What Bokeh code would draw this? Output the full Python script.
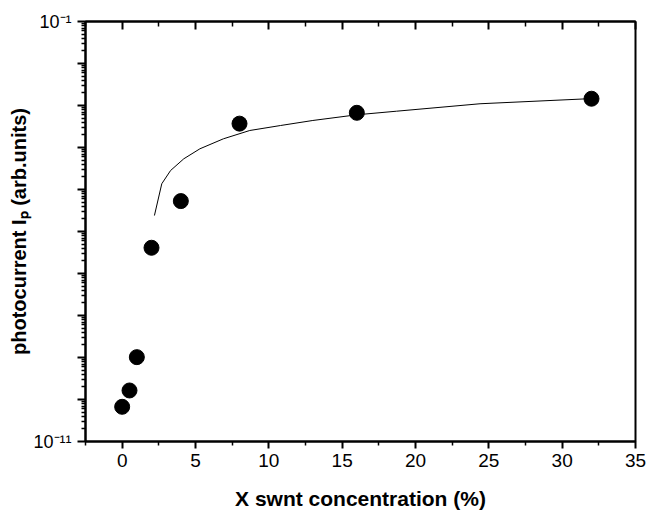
from bokeh.plotting import figure
from bokeh.models import FixedTicker, LinearAxis, Range1d, CustomJSTickFormatter, Title
from bokeh.embed import file_html
from bokeh.resources import INLINE

# ---- data ----
conc = [0, 0.5, 1, 2, 4, 8, 16, 32]
photocurrent = [6.7e-11, 1.64e-10, 1.02e-9, 4.1e-7, 5.3e-6, 3.7e-4, 6.7e-4, 1.45e-3]

fit_conc = [2.2, 2.7, 3.3, 4.2, 5.3, 6.9, 8.7, 10.8, 13.0, 16.0, 18.7, 24.4, 32.0]
fit_photocurrent = [2.40e-6, 1.37e-5, 2.83e-5, 5.38e-5, 9.31e-5, 1.61e-4, 2.54e-4,
                    3.34e-4, 4.40e-4, 6.01e-4, 7.31e-4, 1.10e-3, 1.46e-3]

x_major_ticks = [0, 5, 10, 15, 20, 25, 30, 35]
x_minor_ticks = [-2.5, 2.5, 7.5, 12.5, 17.5, 22.5, 27.5, 32.5]
y_decades = [-11, -10, -9, -8, -7, -6, -5, -4, -3, -2, -1]
y_label_exponents = [-11, -1]
y_label_texts = ["10\u207b\u00b9\u00b9", "10\u207b\u00b9"]

x_title = "X swnt concentration (%)"
y_title = "photocurrent I\u209a (arb.units)"

FONT = "Liberation Sans"

y_major = [10.0 ** e for e in y_decades]
y_minor = [k * 10.0 ** e for e in y_decades[:-1] for k in range(2, 10)]

p = figure(width=648, height=518,
           x_range=Range1d(-2.5, 35), y_range=Range1d(1e-11, 1e-1),
           y_axis_type="log", output_backend="svg", toolbar_location=None,
           min_border_left=85, min_border_right=13, min_border_top=21,
           min_border_bottom=77, background_fill_color="white",
           border_fill_color="white")
p.xgrid.visible = False
p.ygrid.visible = False
p.outline_line_color = "black"
p.outline_line_width = 2
p.outline_line_alpha = 1.0

# bottom axis
xa = p.xaxis[0]
xa.ticker = FixedTicker(ticks=x_major_ticks, minor_ticks=x_minor_ticks)
xa.major_tick_out = 7
xa.major_tick_in = 0
xa.minor_tick_out = 4
xa.minor_tick_in = 0
xa.axis_line_width = 2
xa.major_tick_line_width = 2
xa.minor_tick_line_width = 1.5
xa.major_label_text_font = FONT
xa.major_label_text_font_size = "19px"
xa.major_label_text_color = "black"
xa.major_label_standoff = 5
xa.axis_label = x_title
xa.axis_label_text_font = FONT
xa.axis_label_text_font_size = "21px"
xa.axis_label_text_font_style = "bold"
xa.axis_label_text_color = "black"
xa.axis_label_standoff = 17

# top axis (ticks inward, no labels)
top = LinearAxis(ticker=FixedTicker(ticks=x_major_ticks, minor_ticks=x_minor_ticks),
                 formatter=CustomJSTickFormatter(code="return '';"),
                 major_tick_in=8, major_tick_out=0, minor_tick_in=5, minor_tick_out=0,
                 axis_line_width=2, major_tick_line_width=2, minor_tick_line_width=1.5,
                 major_label_standoff=0)
p.add_layout(top, "above")

# left axis
ya = p.yaxis[0]
ya.ticker = FixedTicker(ticks=y_major, minor_ticks=y_minor)
ya.formatter = CustomJSTickFormatter(
    args=dict(exps=y_label_exponents, labels=y_label_texts),
    code="""
    const e = Math.round(Math.log10(tick));
    const i = exps.indexOf(e);
    return i >= 0 ? labels[i] : "";
    """)
ya.major_tick_out = 8
ya.major_tick_in = 0
ya.minor_tick_out = 4
ya.minor_tick_in = 0
ya.axis_line_width = 2
ya.major_tick_line_width = 2
ya.minor_tick_line_width = 1.5
ya.major_label_text_font = FONT
ya.major_label_text_font_size = "18px"
ya.major_label_text_color = "black"
ya.major_label_standoff = 6
ya.axis_label = None

ytitle = Title(text=y_title, text_font=FONT, text_font_size="20px",
               text_font_style="bold", text_color="black", align="center",
               offset=16, standoff=2)
p.add_layout(ytitle, "left")

# data
p.line(fit_conc, fit_photocurrent, line_width=1, line_color="black")
p.scatter(conc, photocurrent, size=15, fill_color="black", line_color="black")

open("out.html", "w").write(file_html(p, INLINE))
